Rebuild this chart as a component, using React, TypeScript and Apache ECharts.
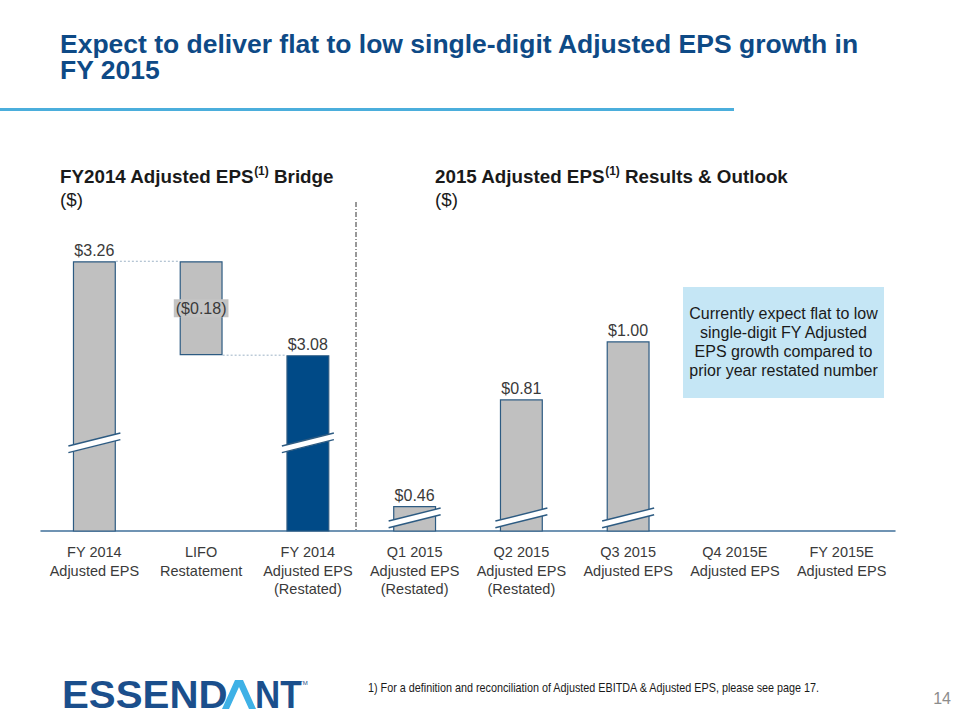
import React, { useEffect, useRef } from 'react';
import * as echarts from 'echarts';

const categories = [
  'FY 2014\nAdjusted EPS',
  'LIFO\nRestatement',
  'FY 2014\nAdjusted EPS\n(Restated)',
  'Q1 2015\nAdjusted EPS\n(Restated)',
  'Q2 2015\nAdjusted EPS\n(Restated)',
  'Q3 2015\nAdjusted EPS',
  'Q4 2015E\nAdjusted EPS',
  'FY 2015E\nAdjusted EPS',
];
const fy2014Eps = 3.26;
const lifoRestatement = -0.18;
const fy2014RestatedEps = 3.08;
const eps2015Reported = [0.46, 0.81, 1.0]; // Q1, Q2, Q3 (Q4 and FY not yet reported)
const leftAxisRange = [2.743, 3.318];
const rightAxisRange = [0.378, 1.362];
const leftBreakLevel = 2.912;
const rightBreakLevel = 0.421;
const leftBreakBars = [0, 2];
const rightBreakBars = [3, 4, 5];
const titleLines = ['Expect to deliver flat to low single-digit Adjusted EPS growth in', 'FY 2015'];

const GRAY = '#C0C0C0';
const NAVY = '#004A87';
const BORDER = '#2D5B82';
const BAR_W = 43;
const FONT = 'Arial, "Liberation Sans", sans-serif';

const fmt = (v: number) => (v < 0 ? `($${Math.abs(v).toFixed(2)})` : `$${v.toFixed(2)}`);

export default function App() {
  const ref = useRef<HTMLDivElement>(null);
  useEffect(() => {
    document.body.style.margin = '0';
    const chart = echarts.init(ref.current!, null, { renderer: 'svg' });

    const n = categories.length;
    const blank = () => new Array(n).fill('-');

    const leftBase: any[] = blank();
    leftBase[0] = 0;
    leftBase[1] = fy2014Eps + lifoRestatement;
    leftBase[2] = 0;

    const valueLabel = (v: number, pos: string, extra: any = {}) => ({
      show: true,
      position: pos,
      distance: 3,
      formatter: fmt(v),
      fontSize: 16,
      fontFamily: FONT,
      color: '#3A3A3A',
      ...extra,
    });

    const leftVals: any[] = blank();
    leftVals[0] = { value: fy2014Eps, itemStyle: { color: GRAY }, label: valueLabel(fy2014Eps, 'top') };
    leftVals[1] = {
      value: Math.abs(lifoRestatement),
      itemStyle: { color: GRAY },
      label: valueLabel(lifoRestatement, 'inside', { backgroundColor: '#C4C4C4', padding: [1, 2] }),
    };
    leftVals[2] = { value: fy2014RestatedEps, itemStyle: { color: NAVY }, label: valueLabel(fy2014RestatedEps, 'top') };

    const rightVals: any[] = blank();
    eps2015Reported.forEach((v, i) => {
      rightVals[3 + i] = { value: v, label: valueLabel(v, 'top') };
    });

    const renderBreak = (params: any, api: any) => {
      const [cx, cy] = api.coord([api.value(0), api.value(1)]);
      const hw = 26, rise = 6.5, gap = 3.3;
      const uL = [cx - hw, cy + rise - gap], uR = [cx + hw, cy - rise - gap];
      const lL = [cx - hw, cy + rise + gap], lR = [cx + hw, cy - rise + gap];
      return {
        type: 'group',
        children: [
          { type: 'polygon', shape: { points: [uL, uR, lR, lL] }, style: { fill: '#ffffff' } },
          { type: 'line', shape: { x1: uL[0], y1: uL[1], x2: uR[0], y2: uR[1] }, style: { stroke: BORDER, lineWidth: 1.5 } },
          { type: 'line', shape: { x1: lL[0], y1: lL[1], x2: lR[0], y2: lR[1] }, style: { stroke: BORDER, lineWidth: 1.5 } },
        ],
      };
    };

    const renderConnector = (params: any, api: any) => {
      const [x0, y] = api.coord([api.value(0), api.value(1)]);
      const [x1] = api.coord([api.value(0) + 1, api.value(1)]);
      return {
        type: 'line',
        shape: { x1: x0 + BAR_W / 2, y1: y, x2: x1 - BAR_W / 2, y2: y },
        style: { stroke: '#9DB3C6', lineWidth: 1, lineDash: [2, 2] },
      };
    };

    const subtitle = (x: number, main: string, rest: string) => ({
      type: 'text',
      x,
      y: 165,
      style: {
        text: `{b|${main}}{s|(1)}{b|${rest}}\n{r|($)}`,
        fontFamily: FONT,
        rich: {
          b: { fontSize: 18.8, fontWeight: 'bold', fill: '#1A1A1A', lineHeight: 23, fontFamily: FONT },
          s: { fontSize: 12, fontWeight: 'bold', fill: '#1A1A1A', lineHeight: 23, verticalAlign: 'top', fontFamily: FONT },
          r: { fontSize: 18.8, fill: '#1A1A1A', lineHeight: 23, fontFamily: FONT },
        },
      },
    });

    const option: any = {
      animation: false,
      grid: { left: 41, right: 65, top: 231, bottom: 189, containLabel: false },
      xAxis: {
        type: 'category',
        data: categories,
        axisLine: { lineStyle: { color: '#40709A', width: 1.5 } },
        axisTick: { show: false },
        axisLabel: {
          interval: 0,
          fontSize: 14.5,
          lineHeight: 18.5,
          color: '#3A3A3A',
          fontFamily: FONT,
          margin: 12,
        },
      },
      yAxis: [
        { type: 'value', min: leftAxisRange[0], max: leftAxisRange[1], show: false, splitLine: { show: false } },
        { type: 'value', min: rightAxisRange[0], max: rightAxisRange[1], show: false, splitLine: { show: false } },
      ],
      series: [
        {
          type: 'bar', name: 'base', stack: 'bridge', yAxisIndex: 0, data: leftBase,
          barWidth: BAR_W, barGap: '-100%', itemStyle: { color: 'transparent' }, silent: true,
        },
        {
          type: 'bar', name: 'FY2014 bridge', stack: 'bridge', yAxisIndex: 0, data: leftVals,
          barWidth: BAR_W, barGap: '-100%', itemStyle: { borderColor: BORDER, borderWidth: 1.2 },
        },
        {
          type: 'bar', name: '2015 results', yAxisIndex: 1, data: rightVals,
          barWidth: BAR_W, barGap: '-100%', itemStyle: { color: GRAY, borderColor: BORDER, borderWidth: 1.2 },
        },
        {
          type: 'custom', name: 'connectors', yAxisIndex: 0, z: 5,
          data: [[0, fy2014Eps], [1, fy2014Eps + lifoRestatement]],
          renderItem: renderConnector,
        },
        {
          type: 'custom', name: 'breaksLeft', yAxisIndex: 0, z: 6,
          data: leftBreakBars.map((i) => [i, leftBreakLevel]),
          renderItem: renderBreak,
        },
        {
          type: 'custom', name: 'breaksRight', yAxisIndex: 1, z: 6,
          data: rightBreakBars.map((i) => [i, rightBreakLevel]),
          renderItem: renderBreak,
        },
      ],
      graphic: [
        ...titleLines.map((t, i) => ({
          type: 'text', x: 60, y: 32 + i * 26, scaleX: 1.06,
          style: {
            text: t, fontSize: 25, fontWeight: 'bold', fontFamily: FONT, fill: '#0E4A86', lineHeight: 25,
          },
        })),
        { type: 'rect', shape: { x: 0, y: 108, width: 734, height: 3 }, style: { fill: '#4BAEDC' } },
        subtitle(60, 'FY2014 Adjusted EPS', ' Bridge'),
        subtitle(435, '2015 Adjusted EPS', ' Results & Outlook'),
        {
          type: 'line', shape: { x1: 356, y1: 202, x2: 356, y2: 530 },
          style: { stroke: '#333333', lineWidth: 1, lineDash: [5, 2, 1, 2] },
        },
        { type: 'rect', shape: { x: 683, y: 287, width: 201, height: 111 }, style: { fill: '#C5E6F5' } },
        {
          type: 'text', x: 783.5, y: 342,
          style: {
            text: 'Currently expect flat to low\nsingle-digit FY Adjusted\nEPS growth compared to\nprior year restated number',
            fontSize: 16, fontFamily: FONT, fill: '#1A1A1A', lineHeight: 19,
            textAlign: 'center', textVerticalAlign: 'middle',
          },
        },
        {
          type: 'text', x: 62, y: 695, scaleX: 1.06,
          style: { text: 'ESSEND', fontSize: 38, fontWeight: 'bold', fontFamily: FONT, fill: '#1B4F8C', textVerticalAlign: 'middle' },
        },
        {
          type: 'polygon',
          shape: { points: [[222, 709], [235, 680], [243, 680], [256, 709], [249, 709], [239, 687], [229, 709]] },
          style: { fill: '#3EB1E6' },
        },
        {
          type: 'text', x: 255, y: 695, scaleX: 0.92,
          style: { text: 'NT', fontSize: 38, fontWeight: 'bold', fontFamily: FONT, fill: '#1B4F8C', textVerticalAlign: 'middle' },
        },
        {
          type: 'text', x: 299, y: 680,
          style: { text: 'TM', fontSize: 6, fontFamily: FONT, fill: '#1B4F8C' },
        },
        {
          type: 'text', x: 368, y: 688, scaleX: 0.9,
          style: {
            text: '1) For a definition and reconciliation of Adjusted EBITDA & Adjusted EPS, please see page 17.',
            fontSize: 12, fontFamily: FONT, fill: '#1A1A1A', textVerticalAlign: 'middle',
          },
        },
        {
          type: 'text', x: 951, y: 698,
          style: { text: '14', fontSize: 16, fontFamily: FONT, fill: '#8C8C8C', textAlign: 'right', textVerticalAlign: 'middle' },
        },
      ],
    };
    chart.setOption(option);
    return () => chart.dispose();
  }, []);
  return <div ref={ref} style={{ width: 960, height: 720 }} />;
}
